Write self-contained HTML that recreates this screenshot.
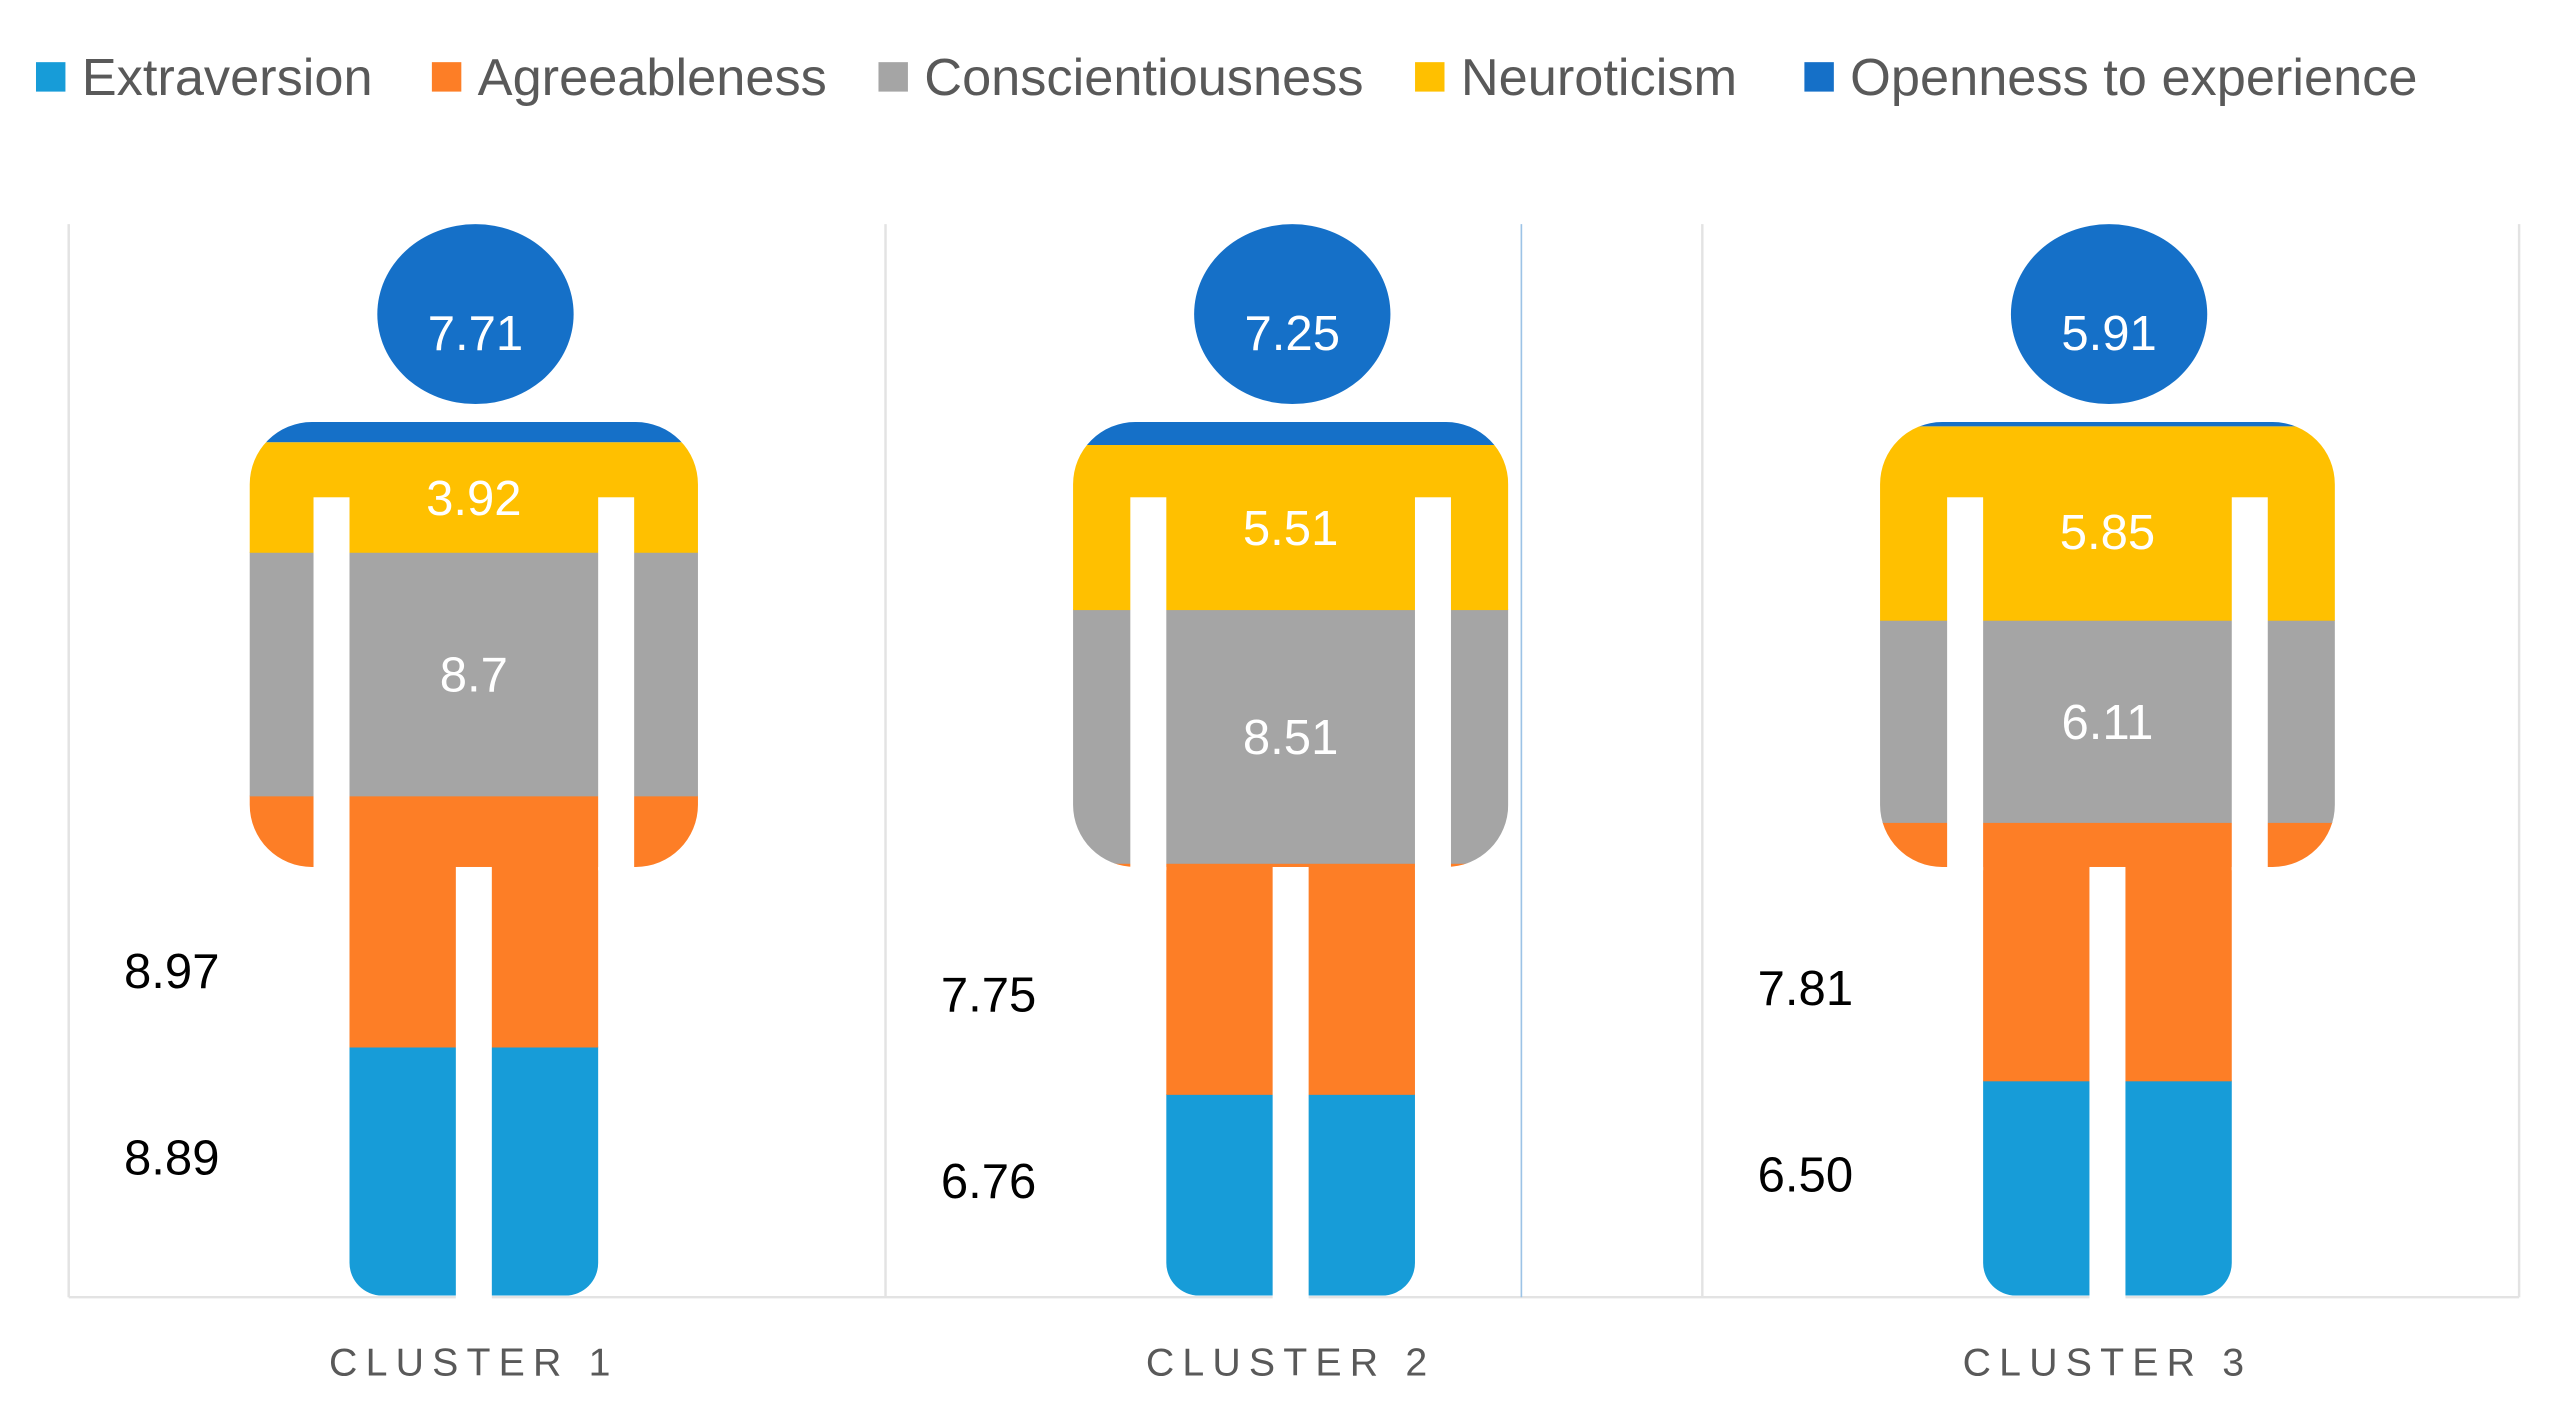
<!DOCTYPE html>
<html><head><meta charset="utf-8"><style>
html,body{margin:0;padding:0;background:#fff;}
svg{display:block;}
text{font-family:"Liberation Sans","DejaVu Sans",sans-serif;}
</style></head><body>
<svg id="chart" width="2552" height="1414" viewBox="0 0 1560 864.4" preserveAspectRatio="none" xmlns="http://www.w3.org/2000/svg">
<g id="legend"></g>
<g id="panels"></g>
</svg>
<script>
const categories = ["CLUSTER 1", "CLUSTER 2", "CLUSTER 3"];
const extraversion = [8.89, 6.76, 6.50];
const agreeableness = [8.97, 7.75, 7.81];
const conscientiousness = [8.7, 8.51, 6.11];
const neuroticism = [3.92, 5.51, 5.85];
const openness = [7.71, 7.25, 5.91];
const axisMax = [31.2, 29.3, 26.4];
const extraversionLabels = ["8.89", "6.76", "6.50"];
const agreeablenessLabels = ["8.97", "7.75", "7.81"];
const conscientiousnessLabels = ["8.7", "8.51", "6.11"];
const neuroticismLabels = ["3.92", "5.51", "5.85"];
const opennessLabels = ["7.71", "7.25", "5.91"];
const seriesNames = ["Extraversion", "Agreeableness", "Conscientiousness", "Neuroticism", "Openness to experience"];

const NS = "http://www.w3.org/2000/svg";
const colors = ["#179cd8", "#fd7e26", "#a5a5a5", "#ffc000", "#1570c8"];
function mk(tag, attrs, parent) {
  const e = document.createElementNS(NS, tag);
  for (const k in attrs) e.setAttribute(k, attrs[k]);
  parent.appendChild(e);
  return e;
}
const legend = document.getElementById("legend");
const legX = [22, 264, 537, 865, 1103];
seriesNames.forEach((n, i) => {
  const g = mk("g", {}, legend);
  
  
  mk("rect", {x: legX[i], y: 38, width: 18, height: 18, fill: colors[i]}, g);
  const t = mk("text", {x: legX[i] + 28, y: 58, "font-size": 32, fill: "#595959"}, g);
  t.textContent = n;
});

const panels = document.getElementById("panels");
const panelLeft = 42, panelW = 499.3, plotTop = 137, plotBase = 793;
const figTop = 258, figBottom = 792, shoulderBottom = 530;
const torsoHalf = [137, 133, 139];
const legHalf = 76;
const armGap = 22;

for (let i = 0; i <= 3; i++) {
  const x = panelLeft + i * panelW;
  const l = mk("line", {x1: x, y1: plotTop, x2: x, y2: plotBase, stroke: "#e3e3e3", "stroke-width": 1.5}, panels);
  
  
}
const ax = mk("line", {x1: panelLeft, y1: plotBase, x2: panelLeft + 3 * panelW, y2: plotBase, stroke: "#e3e3e3", "stroke-width": 1.5}, panels);


const art = mk("line", {x1: 930, y1: plotTop, x2: 930, y2: plotBase, stroke: "#9cc3e6", "stroke-width": 1}, panels);



categories.forEach((cat, c) => {
  const cx = panelLeft + panelW * (c + 0.5) - 2;
  const g = mk("g", {}, panels);
  
  
  const vals = [extraversion[c], agreeableness[c], conscientiousness[c], neuroticism[c], openness[c]];
  const H = figBottom - figTop;
  const scale = H / axisMax[c];
  const th = torsoHalf[c];
  const defs = mk("defs", {}, g);
  const cp = mk("clipPath", {id: "clip" + c}, defs);
  mk("rect", {x: cx - th, y: figTop, width: 2 * th, height: shoulderBottom - figTop, rx: 38, ry: 38}, cp);
  mk("rect", {x: cx - legHalf, y: figTop, width: 2 * legHalf, height: figBottom - figTop, rx: 20, ry: 20}, cp);
  mk("rect", {x: cx - legHalf, y: figTop, width: 2 * legHalf, height: 100}, cp);
  const bars = mk("g", {"clip-path": "url(#clip" + c + ")"}, g);
  let y = figBottom;
  const segs = [];
  for (let i = 0; i < 4; i++) {
    const h = vals[i] * scale;
    const r = mk("rect", {x: cx - th - 5, y: y - h, width: 2 * th + 10, height: h + 0.5, fill: colors[i]}, bars);
    
    
    segs.push([y - h, y]);
    y -= h;
  }
  const rTop = mk("rect", {x: cx - th - 5, y: figTop - 5, width: 2 * th + 10, height: Math.max(0, y - figTop + 5), fill: colors[4]}, bars);
  
  
  mk("rect", {x: cx - legHalf - armGap, y: 304, width: armGap, height: shoulderBottom - 304 + 2, fill: "#fff"}, g);
  mk("rect", {x: cx + legHalf, y: 304, width: armGap, height: shoulderBottom - 304 + 2, fill: "#fff"}, g);
  mk("rect", {x: cx - 11, y: shoulderBottom, width: 22, height: figBottom - shoulderBottom + 2, fill: "#fff"}, g);
  const head = mk("ellipse", {cx: cx + 1, cy: 192, rx: 60, ry: 55, fill: colors[4]}, g);
  
  
  const ht = mk("text", {x: cx + 1, y: 214, "font-size": 30, fill: "#fff", "text-anchor": "middle"}, g);
  ht.textContent = opennessLabels[c];
  const ySegTop = Math.max(segs[3][0], figTop + 12);
  const yl = mk("text", {x: cx, y: (ySegTop + segs[3][1]) / 2 + 11, "font-size": 30, fill: "#fff", "text-anchor": "middle"}, g);
  yl.textContent = neuroticismLabels[c];
  const gl = mk("text", {x: cx, y: (segs[2][0] + segs[2][1]) / 2 + 11, "font-size": 30, fill: "#fff", "text-anchor": "middle"}, g);
  gl.textContent = conscientiousnessLabels[c];
  const lx = panelLeft + panelW * c + 63;
  const oTop = Math.max(segs[1][0], shoulderBottom);
  const ol = mk("text", {x: lx, y: (oTop + segs[1][1]) / 2 + 19, "font-size": 30, fill: "#000", "text-anchor": "middle"}, g);
  ol.textContent = agreeablenessLabels[c];
  const bl = mk("text", {x: lx, y: (segs[0][0] + segs[0][1]) / 2 + 2, "font-size": 30, fill: "#000", "text-anchor": "middle"}, g);
  bl.textContent = extraversionLabels[c];
  const cl = mk("text", {x: cx, y: 841, "font-size": 24, fill: "#595959", "text-anchor": "middle", "letter-spacing": 5}, g);
  
  
  cl.textContent = cat;
});
</script>
</body></html>
